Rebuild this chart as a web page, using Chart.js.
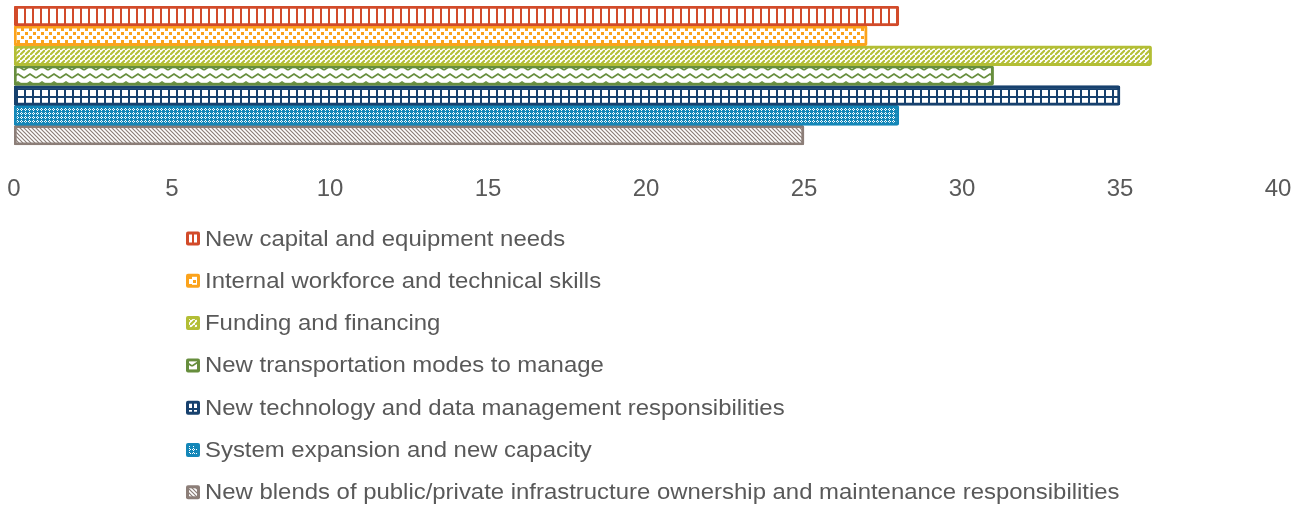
<!DOCTYPE html>
<html>
<head>
<meta charset="utf-8">
<script src="https://cdn.jsdelivr.net/npm/chart.js@4/dist/chart.umd.min.js"></script>
<style>
html,body{margin:0;padding:0;background:#fff;overflow:hidden;}
#wrap{width:1303px;height:508px;position:relative;}
</style>
</head>
<body>
<div id="wrap"><canvas id="c"></canvas></div>
<script>
const categories = [''];
const seriesLabels = [
  'New capital and equipment needs',
  'Internal workforce and technical skills',
  'Funding and financing',
  'New transportation modes to manage',
  'New technology and data management responsibilities',
  'System expansion and new capacity',
  'New blends of public/private infrastructure ownership and maintenance responsibilities'
];
const seriesValues = [28, 27, 36, 31, 35, 28, 25];
const xTicks = [0, 5, 10, 15, 20, 25, 30, 35, 40];

const colors = ['#D24B2A', '#FBA31C', '#B3BE35', '#678E3D', '#17416E', '#1487B8', '#8C7E78'];

function makePattern(kind, color) {
  const t = document.createElement('canvas');
  const g = t.getContext('2d');
  const sizes = { vstripe: [8, 8], dots: [8, 8], fdiag: [5, 5], zigzag: [12, 8], grid: [8, 8], check: [4, 4], bdiag: [4, 4] };
  const [w, h] = sizes[kind];
  t.width = w; t.height = h;
  g.fillStyle = '#fff'; g.fillRect(0, 0, w, h);
  g.fillStyle = color; g.strokeStyle = color;
  if (kind === 'vstripe') {
    g.fillRect(0, 0, 2, h);
  } else if (kind === 'dots') {
    g.fillRect(1, 0, 3, 3);
    g.fillRect(5, 4, 3, 3);
  } else if (kind === 'fdiag') {
    g.lineWidth = 2;
    g.beginPath();
    g.moveTo(-1, h + 1); g.lineTo(w + 1, -1);
    g.moveTo(-2, 1); g.lineTo(1, -2);
    g.moveTo(w - 1, h + 2); g.lineTo(w + 2, h - 1);
    g.stroke();
  } else if (kind === 'zigzag') {
    g.lineWidth = 1.8;
    g.beginPath();
    g.moveTo(0, 6); g.lineTo(6, 2); g.lineTo(12, 6);
    g.stroke();
  } else if (kind === 'grid') {
    g.fillRect(0, 0, 2, h);
    g.fillRect(0, 0, w, 2);
  } else if (kind === 'check') {
    g.fillRect(0, 0, 4, 4);
    g.fillStyle = '#fff';
    g.fillRect(1, 0, 1, 1);
    g.fillRect(0, 1, 1, 1);
    g.fillRect(2, 1, 1, 1);
    g.fillRect(1, 2, 1, 1);
  } else if (kind === 'bdiag') {
    g.lineWidth = 1.2;
    g.beginPath();
    g.moveTo(-1, -1); g.lineTo(w + 1, h + 1);
    g.moveTo(w - 1, -1); g.lineTo(w + 1, 1);
    g.moveTo(-1, h - 1); g.lineTo(1, h + 1);
    g.stroke();
  }
  return g.createPattern(t, 'repeat');
}

const kinds = ['vstripe', 'dots', 'fdiag', 'zigzag', 'grid', 'check', 'bdiag'];
const patterns = kinds.map((k, i) => makePattern(k, colors[i]));

const datasets = seriesLabels.map((lab, i) => ({
  label: lab,
  data: [seriesValues[i]],
  backgroundColor: patterns[i],
  borderColor: colors[i],
  borderWidth: 3,
  borderSkipped: false,
  borderRadius: 2,
  categoryPercentage: 1,
  barPercentage: 1
}));

const legendPlugin = {
  id: 'customLegend',
  afterDraw(chart) {
    const ctx = chart.ctx;
    ctx.save();
    ctx.font = '22px "Liberation Sans", Arial, sans-serif';
    ctx.textBaseline = 'middle';
    ctx.textAlign = 'left';
    seriesLabels.forEach((lab, i) => {
      const y = 238.5 + i * 42.3;
      const x = 186;
      ctx.fillStyle = colors[i];
      ctx.beginPath();
      ctx.roundRect(x, y - 7, 14, 14, 2);
      ctx.fill();
      ctx.fillStyle = patterns[i];
      ctx.fillRect(x + 3, y - 4, 8, 8);
      ctx.fillStyle = '#595959';
      ctx.save();
      ctx.translate(205, y + 1);
      ctx.scale(1.087, 1);
      ctx.fillText(lab, 0, 0);
      ctx.restore();
    });
    ctx.restore();
  }
};

new Chart(document.getElementById('c'), {
  type: 'bar',
  data: { labels: categories, datasets },
  options: {
    indexAxis: 'y',
    responsive: true,
    maintainAspectRatio: false,
    animation: false,
    layout: { padding: { top: 6, left: 14, right: 25, bottom: 301 } },
    plugins: { legend: { display: false }, tooltip: { enabled: false } },
    scales: {
      x: {
        min: 0, max: 40,
        afterBuildTicks(scale) { scale.ticks = xTicks.map(v => ({ value: v })); },
        grid: { display: false, drawTicks: true, tickLength: 27 },
        border: { display: false },
        ticks: {
          padding: 3,
          color: '#595959',
          font: { family: '"Liberation Sans", Arial, sans-serif', size: 24 },
          maxRotation: 0
        }
      },
      y: { display: false }
    }
  },
  plugins: [legendPlugin]
});
</script>
</body>
</html>
